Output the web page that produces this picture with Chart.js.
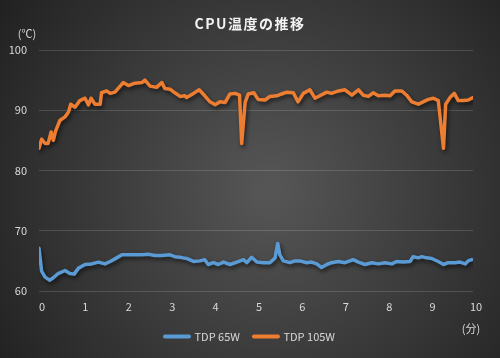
<!DOCTYPE html>
<html><head><meta charset="utf-8">
<script src="https://cdn.jsdelivr.net/npm/chart.js@4/dist/chart.umd.min.js"></script>
<style>html,body{margin:0;padding:0;background:#2a2a2a;}#wrap{width:500px;height:358px;}</style>
</head><body><div id="wrap"><canvas id="c" width="500" height="358"></canvas></div>
<script>
const titleText = 'CPU温度の推移';
const seriesNames = ['TDP 65W', 'TDP 105W'];
const yTicks = [60, 70, 80, 90, 100];
const xTicks = [0,1,2,3,4,5,6,7,8,9,10];
const timeOrange = [0.00,0.06,0.14,0.21,0.28,0.33,0.38,0.48,0.60,0.68,0.73,0.83,0.94,1.06,1.14,1.20,1.29,1.41,1.44,1.56,1.64,1.75,1.94,2.06,2.21,2.37,2.44,2.56,2.71,2.83,2.90,3.02,3.13,3.25,3.36,3.40,3.56,3.69,3.82,3.94,4.06,4.17,4.29,4.40,4.52,4.62,4.67,4.75,4.82,4.95,5.05,5.21,5.32,5.48,5.59,5.71,5.86,5.97,6.09,6.24,6.36,6.47,6.63,6.74,6.90,7.05,7.21,7.36,7.47,7.59,7.70,7.82,7.97,8.09,8.20,8.36,8.47,8.59,8.74,8.85,8.97,9.09,9.20,9.32,9.37,9.47,9.57,9.66,9.78,9.89,10.00];
const tempOrange = [83.7,85.2,84.5,84.5,86.4,85.0,86.5,88.3,88.9,89.7,91.0,90.5,91.6,92.0,90.9,92.0,91.0,91.0,92.9,93.2,92.8,93.0,94.6,94.1,94.5,94.6,95.0,94.0,93.8,94.6,93.6,93.5,92.9,92.3,92.4,92.1,92.8,93.4,92.4,91.4,90.9,91.4,91.3,92.7,92.8,92.5,84.5,91.3,92.7,92.9,91.8,91.7,92.3,92.4,92.7,93.0,92.9,91.4,92.8,93.4,92.0,92.4,93.0,92.8,93.2,93.4,92.5,93.4,92.5,92.3,92.9,92.4,92.5,92.4,93.2,93.2,92.5,91.4,91.0,91.4,91.8,92.0,91.6,83.7,91.0,92.1,92.8,91.6,91.6,91.7,92.1];
const timeBlue = [0.00,0.06,0.14,0.25,0.33,0.44,0.60,0.71,0.81,0.91,1.06,1.21,1.37,1.52,1.64,1.79,1.91,2.06,2.21,2.37,2.52,2.67,2.83,3.02,3.13,3.25,3.32,3.40,3.56,3.71,3.82,3.90,4.02,4.13,4.25,4.40,4.56,4.71,4.79,4.90,5.02,5.17,5.32,5.44,5.50,5.55,5.63,5.78,5.90,6.01,6.17,6.28,6.40,6.51,6.63,6.74,6.90,7.05,7.24,7.36,7.51,7.67,7.82,7.97,8.13,8.24,8.39,8.55,8.62,8.74,8.82,8.93,9.05,9.20,9.32,9.43,9.59,9.70,9.82,9.89,9.97];
const tempBlue = [67.1,63.3,62.3,61.8,62.2,62.9,63.4,62.9,62.8,63.8,64.4,64.5,64.8,64.5,64.9,65.5,66.0,66.0,66.0,66.0,66.1,65.9,65.9,66.0,65.7,65.6,65.5,65.4,64.9,65.0,65.2,64.4,64.7,64.4,64.8,64.4,64.8,65.2,64.7,65.6,64.8,64.7,64.7,65.5,67.9,66.0,65.0,64.7,65.0,65.0,64.7,64.8,64.5,63.9,64.4,64.7,64.9,64.7,65.2,64.8,64.4,64.7,64.5,64.7,64.5,64.9,64.8,64.9,65.7,65.5,65.7,65.5,65.4,64.9,64.4,64.7,64.7,64.8,64.5,65.0,65.2];
const yUnit = '(℃)';
const xUnit = '(分)';

const zip = (xs, ys) => xs.map((x, i) => ({x: x, y: ys[i]}));
const TXT = '#d9d9d9';
const FONT = '"Noto Sans CJK JP", "Noto Sans", sans-serif';

const bgPlugin = {
  id: 'bg',
  beforeDraw(chart) {
    const ctx = chart.ctx, w = chart.width, h = chart.height;
    const g = ctx.createRadialGradient(270, 190, 10, 270, 190, 340);
    g.addColorStop(0, '#555555');
    g.addColorStop(1, '#1f1f1f');
    ctx.save(); ctx.fillStyle = g; ctx.fillRect(0, 0, w, h); ctx.restore();
  },
  afterDraw(chart) {
    const ctx = chart.ctx;
    ctx.save();
    ctx.fillStyle = TXT;
    ctx.font = '11px ' + FONT;
    ctx.textAlign = 'center'; ctx.textBaseline = 'middle';
    ctx.fillText(yUnit, 27, 34);
    ctx.fillText(xUnit, 471, 329);
    ctx.fillStyle = '#f2f2f2';
    ctx.font = 'bold 14px ' + FONT;
    if ('letterSpacing' in ctx) ctx.letterSpacing = '1.5px';
    ctx.fillText(titleText, 250, 24);
    ctx.restore();
  }
};
const shadowPlugin = {
  id: 'shadow',
  beforeDatasetDraw(chart) {
    const ctx = chart.ctx; ctx.save();
    ctx.shadowColor = 'rgba(0,0,0,0.6)'; ctx.shadowBlur = 4;
    ctx.shadowOffsetX = 1.5; ctx.shadowOffsetY = 2.5;
  },
  afterDatasetDraw(chart) { chart.ctx.restore(); }
};

new Chart(document.getElementById('c'), {
  type: 'line',
  data: {
    datasets: [
      {label: seriesNames[0], data: zip(timeBlue, tempBlue), borderColor: '#5B9BD5', backgroundColor: '#5B9BD5', borderWidth: 3.5, pointRadius: 0, tension: 0, borderCapStyle: 'round', borderJoinStyle: 'round'},
      {label: seriesNames[1], data: zip(timeOrange, tempOrange), borderColor: '#ED7D31', backgroundColor: '#ED7D31', borderWidth: 3.5, pointRadius: 0, tension: 0, borderCapStyle: 'round', borderJoinStyle: 'round'}
    ]
  },
  options: {
    responsive: false, animation: false, devicePixelRatio: 1,
    layout: {padding: {left: 0, right: 0, top: 50, bottom: 6}},
    plugins: {
      title: {display: false},
      legend: {position: 'bottom', labels: {color: TXT, font: {family: FONT, size: 11}, usePointStyle: true, pointStyle: 'line', pointStyleWidth: 24, padding: 14,
        generateLabels(chart) {
          const items = Chart.defaults.plugins.legend.labels.generateLabels(chart);
          items.forEach(it => { it.lineWidth = 4; it.lineCap = 'round'; it.pointStyle = 'line'; });
          return items;
        }}},
      tooltip: {enabled: false}
    },
    scales: {
      x: {type: 'linear', min: 0, max: 10,
        afterBuildTicks(s) { s.ticks = xTicks.map(v => ({value: v})); },
        afterFit(s) { s.height = 26; },
        grid: {display: false, drawTicks: false}, border: {display: false},
        ticks: {color: TXT, font: {family: FONT, size: 11}, padding: 9, labelOffset: 3, maxRotation: 0, autoSkip: false}},
      y: {min: 60, max: 100,
        afterBuildTicks(s) { s.ticks = yTicks.map(v => ({value: v})); },
        afterFit(s) { s.width = 39; },
        grid: {color: 'rgba(255,255,255,0.15)', lineWidth: 1, drawTicks: false}, border: {display: false},
        ticks: {color: TXT, font: {family: FONT, size: 11}, padding: 12}},
      yRight: {position: 'right', min: 60, max: 100,
        afterFit(s) { s.width = 27; },
        grid: {display: false, drawTicks: false}, border: {display: false},
        ticks: {display: false}}
    }
  },
  plugins: [bgPlugin, shadowPlugin]
});
</script></body></html>
